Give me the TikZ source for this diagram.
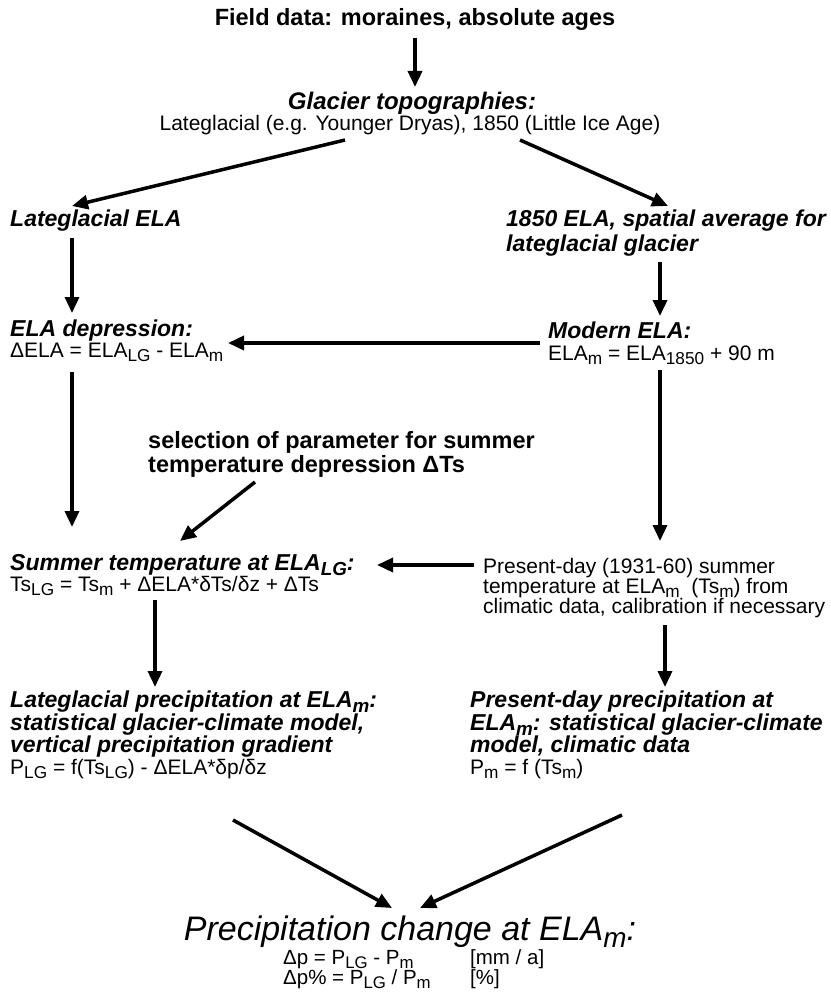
\documentclass[tikz,border=0pt]{standalone}
\usepackage{fontspec}
\setmainfont{Liberation Sans}
\usetikzlibrary{arrows.meta}
\newcommand\sbs[1]{\raisebox{-0.22em}{\scalebox{0.82}{#1}}}
\tikzset{
 lbl/.style={inner sep=0pt, anchor=base west},
 hd/.style={lbl, font=\fontsize{23}{25}\selectfont\bfseries\itshape},
 bd/.style={lbl, font=\fontsize{23.5}{26}\selectfont\bfseries},
 tx/.style={lbl, font=\fontsize{21}{23}\selectfont},
 big/.style={lbl, font=\fontsize{34}{36}\selectfont\itshape},
 sm/.style={lbl, font=\fontsize{20.5}{22}\selectfont},
 arr/.style={line width=3.5pt, -{Triangle[length=16pt,width=14pt]}},
}
\begin{document}
\begin{tikzpicture}[x=1pt,y=-1pt]
\useasboundingbox (0,0) rectangle (830,995);
% top
\node[bd, anchor=base] (field) at (415,26) {Field data: moraines, absolute ages};
\node[hd, font=\fontsize{24}{26}\selectfont\bfseries\itshape, anchor=base] (glac) at (412,110) {Glacier topographies:};
\node[tx, anchor=base] (glac2) at (410,131) {Lateglacial (e.g. Younger Dryas), 1850 (Little Ice Age)};
% second row
\node[hd] (lgela) at (10,226) {Lateglacial ELA};
\node[hd] (ela1850) at (506,226) {1850 ELA, spatial average for};
\node[hd] (ela1850b) at (506,251) {lateglacial glacier};
% third row
\node[hd] (dep) at (10,336) {ELA depression:};
\node[tx] (dep2) at (10,357) {ΔELA = ELA\sbs{LG} - ELA\sbs{m}};
\node[hd] (mod) at (548,338) {Modern ELA:};
\node[tx] (mod2) at (548,360) {ELA\sbs{m} = ELA\sbs{1850} + 90 m};
% selection
\node[bd] (sel) at (148,448) {selection of parameter for summer};
\node[bd] (sel2) at (148,472) {temperature depression ΔTs};
% summer
\node[hd] (sum) at (10,570) {Summer temperature at ELA\sbs{LG}:};
\node[tx] (sum2) at (10,591) {Ts\sbs{LG} = Ts\sbs{m} + ΔELA*δTs/δz + ΔTs};
\node[tx] (pd1) at (483,573) {Present-day (1931-60) summer};
\node[tx] (pd2) at (483,593) {temperature at ELA\sbs{m}\ \ (Ts\sbs{m}) from};
\node[tx] (pd3) at (483,613) {climatic data, calibration if necessary};
% precipitation
\node[hd] (lp1) at (10,707) {Lateglacial precipitation at ELA\sbs{m}:};
\node[hd] (lp2) at (10,730) {statistical glacier-climate model,};
\node[hd] (lp3) at (10,752) {vertical precipitation gradient};
\node[tx] (lp4) at (10,774) {P\sbs{LG} = f(Ts\sbs{LG}) - ΔELA*δp/δz};
\node[hd] (pp1) at (470,707) {Present-day precipitation at};
\node[hd] (pp2) at (470,730) {ELA\sbs{m}: statistical glacier-climate};
\node[hd] (pp3) at (470,752) {model, climatic data};
\node[tx] (pp4) at (470,774) {P\sbs{m} = f (Ts\sbs{m})};
% bottom
\node[big, anchor=base] (pc) at (410,940) {Precipitation change at ELA\sbs{m}:};
\node[sm] (dp1) at (283,964) {Δp = P\sbs{LG} - P\sbs{m}};
\node[sm] (dp1u) at (470,964) {[mm / a]};
\node[sm] (dp2) at (283,984) {Δp\% = P\sbs{LG} / P\sbs{m}};
\node[sm] (dp2u) at (470,984) {[\%]};
% arrow end points
\coordinate (a1s) at (415,38); \coordinate (a1e) at (415,87);
\coordinate (a2s) at (345,140); \coordinate (a2e) at (72,206);
\coordinate (a3s) at (520,140); \coordinate (a3e) at (668,206);
\coordinate (a4s) at (72,238); \coordinate (a4e) at (72,313);
\coordinate (a5s) at (660,262); \coordinate (a5e) at (660,316);
\coordinate (a6s) at (540,343); \coordinate (a6e) at (228,343);
\coordinate (a7s) at (72,372); \coordinate (a7e) at (72,527);
\coordinate (a8s) at (660,370); \coordinate (a8e) at (660,541);
\coordinate (a9s) at (255,482); \coordinate (a9e) at (180,541);
\coordinate (a10s) at (474,565); \coordinate (a10e) at (377,565);
\coordinate (a11s) at (155,600); \coordinate (a11e) at (155,687);
\coordinate (a12s) at (665,625); \coordinate (a12e) at (665,687);
\coordinate (a13s) at (233,820); \coordinate (a13e) at (392,908);
\coordinate (a14s) at (622,815); \coordinate (a14e) at (420,908);
\foreach \i in {1,...,14} \draw[arr] (a\i s) -- (a\i e);
\end{tikzpicture}
\end{document}
